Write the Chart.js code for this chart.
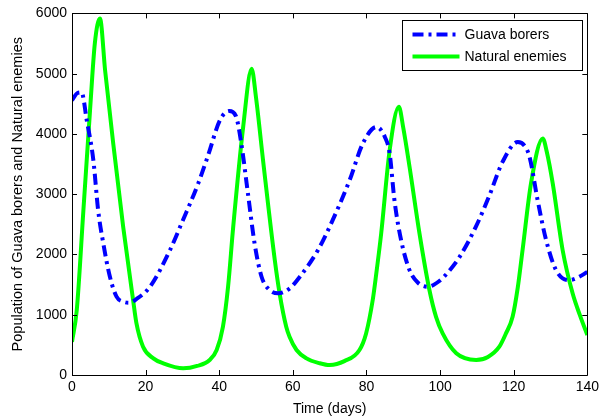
<!DOCTYPE html>
<html>
<head>
<meta charset="utf-8">
<script src="https://cdn.jsdelivr.net/npm/chart.js@4/dist/chart.umd.min.js"></script>
<style>
html,body{margin:0;padding:0;background:#fff;}
#wrap{width:603px;height:418px;position:relative;}
</style>
</head>
<body>
<div id="wrap"><canvas id="c" width="603" height="418"></canvas></div>
<script>
// ---- data ----
const guavaDays = [0, 1.5, 2.6, 4, 5.8, 7.1, 8.5, 10.3, 12.1, 14, 15.5, 17.5, 21.2, 26.6, 30, 34.3, 37, 40.2, 42.7, 44.5, 46, 47.8, 49.6, 51.5, 53.5, 56, 59, 61.9, 66.8, 70, 75.4, 79, 82.7, 85, 86.3, 87.6, 89.4, 91.7, 94, 96.7, 99.8, 102.5, 105.3, 109.8, 113.4, 117, 121.1, 123, 124.3, 126.5, 128.8, 131.5, 135, 137.5, 140];
const guavaBorers = [4560, 4680, 4690, 4230, 3565, 2735, 2185, 1630, 1300, 1215, 1200, 1260, 1465, 2070, 2550, 3180, 3650, 4230, 4380, 4300, 3840, 3010, 2185, 1630, 1420, 1355, 1430, 1630, 2070, 2460, 3230, 3840, 4115, 3950, 3675, 2900, 2240, 1740, 1530, 1465, 1560, 1730, 1960, 2470, 2980, 3540, 3865, 3800, 3620, 2900, 2240, 1740, 1575, 1620, 1710];
const enemyDays = [0, 1.3, 3.1, 4.9, 6.2, 7.6, 9, 11.2, 13.9, 16.6, 17.5, 19.3, 22.1, 24.8, 30.2, 34, 37.4, 39.3, 41, 42.4, 43.8, 46.5, 48.8, 50, 51.9, 55.1, 56.4, 58.2, 59.1, 61, 63.7, 67.3, 70, 74, 78.1, 79.9, 81.7, 82.6, 84, 86.3, 88.8, 90, 91.7, 94.4, 97.1, 98.9, 100.7, 104.4, 109.8, 113, 116.1, 117.9, 119.7, 121.1, 122.4, 124.7, 127.9, 129, 130.6, 133.3, 136, 138, 140];
const naturalEnemies = [550, 1080, 2735, 4390, 5500, 5915, 5050, 3840, 2460, 1245, 860, 470, 276, 193, 110, 150, 250, 415, 800, 1465, 2460, 4115, 5080, 4600, 3565, 1905, 1355, 800, 635, 415, 276, 195, 165, 230, 415, 690, 1245, 1650, 2350, 3730, 4450, 4100, 3455, 2350, 1410, 965, 690, 360, 250, 300, 470, 690, 965, 1450, 2070, 3180, 3925, 3700, 3180, 2070, 1355, 990, 665];
const seriesNames = ['Guava borers', 'Natural enemies'];
const xTicks = [0, 20, 40, 60, 80, 100, 120, 140];
const yTicks = [0, 1000, 2000, 3000, 4000, 5000, 6000];
const xTitle = 'Time (days)';
const yTitle = 'Population of Guava borers and Natural enemies';

const FONT = '"Liberation Sans", Arial, sans-serif';
const BLUE_DASH = [11, 5, 3, 5];

const toPts = (xs, ys) => xs.map((x, i) => ({x: x, y: ys[i]}));

const boxPlugin = {
  id: 'boxPlugin',
  afterDatasetsDraw(chart) {
    const ctx = chart.ctx;
    const a = chart.chartArea;
    const xs = chart.scales.x, ys = chart.scales.y;
    ctx.save();
    ctx.strokeStyle = '#000';
    ctx.lineWidth = 1;
    ctx.beginPath();
    ctx.rect(Math.round(a.left) + 0.5, Math.round(a.top) + 0.5, Math.round(a.right - a.left), Math.round(a.bottom - a.top));
    ctx.stroke();
    const tl = 5;
    ctx.beginPath();
    xTicks.forEach(v => {
      const px = Math.round(xs.getPixelForValue(v)) + 0.5;
      ctx.moveTo(px, a.bottom); ctx.lineTo(px, a.bottom - tl);
      ctx.moveTo(px, a.top); ctx.lineTo(px, a.top + tl);
    });
    yTicks.forEach(v => {
      const py = Math.round(ys.getPixelForValue(v)) + 0.5;
      ctx.moveTo(a.left, py); ctx.lineTo(a.left + tl, py);
      ctx.moveTo(a.right, py); ctx.lineTo(a.right - tl, py);
    });
    ctx.stroke();
    // legend
    const L = Math.round(a.right) - 184.5, T = Math.round(a.top) + 7.5, W = 180, H = 50;
    ctx.fillStyle = '#fff';
    ctx.fillRect(L, T, W, H);
    ctx.strokeRect(L, T, W, H);
    const ds = chart.data.datasets;
    const rows = [T + 14, T + 36];
    ds.forEach((d, i) => {
      ctx.save();
      ctx.strokeStyle = d.borderColor;
      ctx.lineWidth = d.borderWidth;
      ctx.setLineDash(d.borderDash || []);
      ctx.beginPath();
      ctx.moveTo(L + 10, rows[i]);
      ctx.lineTo(L + 57, rows[i]);
      ctx.stroke();
      ctx.restore();
      ctx.fillStyle = '#000';
      ctx.font = '14px ' + FONT;
      ctx.textBaseline = 'middle';
      ctx.textAlign = 'left';
      ctx.fillText(d.label, L + 62, rows[i] + 1);
    });
    ctx.restore();
  }
};

new Chart(document.getElementById('c'), {
  type: 'line',
  data: {
    datasets: [
      {
        label: seriesNames[0],
        data: toPts(guavaDays, guavaBorers),
        borderColor: '#0000ff',
        borderWidth: 4,
        borderDash: BLUE_DASH,
        pointRadius: 0,
        cubicInterpolationMode: 'monotone',
        fill: false
      },
      {
        label: seriesNames[1],
        data: toPts(enemyDays, naturalEnemies),
        borderColor: '#00ff00',
        borderWidth: 4,
        pointRadius: 0,
        cubicInterpolationMode: 'monotone',
        fill: false
      }
    ]
  },
  options: {
    responsive: false,
    animation: false,
    layout: {padding: {left: 0, right: 15, top: 13, bottom: 0}},
    plugins: {legend: {display: false}, tooltip: {enabled: false}},
    scales: {
      x: {
        type: 'linear', min: 0, max: 140,
        afterBuildTicks: s => { s.ticks = xTicks.map(v => ({value: v})); },
        afterFit: s => { s.height = 43; },
        grid: {display: false, drawTicks: false},
        border: {display: false},
        ticks: {color: '#000', font: {family: FONT, size: 14}, padding: 4, maxRotation: 0, callback: v => String(v)},
        title: {display: true, text: xTitle, color: '#000', font: {family: FONT, size: 14}, padding: {top: 0, bottom: 0}}
      },
      y: {
        type: 'linear', min: 0, max: 6000,
        afterBuildTicks: s => { s.ticks = yTicks.map(v => ({value: v})); },
        afterFit: s => { s.width = 72; },
        grid: {display: false, drawTicks: false},
        border: {display: false},
        ticks: {color: '#000', font: {family: FONT, size: 14}, padding: 5, callback: v => String(v)},
        title: {display: true, text: yTitle, color: '#000', font: {family: FONT, size: 14.5}, padding: {top: 9, bottom: 0}}
      }
    }
  },
  plugins: [boxPlugin]
});
</script>
</body>
</html>
